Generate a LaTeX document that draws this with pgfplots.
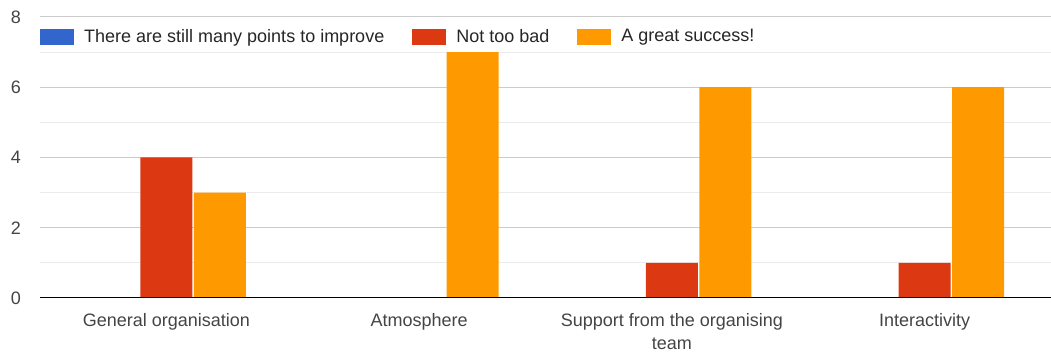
\documentclass[border=0pt]{standalone}
\usepackage{pgfplots}
\pgfplotsset{compat=1.18}
\usepackage{fontspec}
\setmainfont{Liberation Sans}
\definecolor{gblue}{HTML}{3366CC}
\definecolor{gred}{HTML}{DC3912}
\definecolor{gorange}{HTML}{FF9900}
\definecolor{labelgray}{HTML}{444444}
\definecolor{majgrid}{HTML}{CCCCCC}
\definecolor{mingrid}{HTML}{EBEBEB}
\definecolor{baseline}{HTML}{666666}
\begin{document}
\fontsize{18}{23}\selectfont
\begin{tikzpicture}
\begin{axis}[
  width=1011pt, height=281pt, scale only axis,
  xmin=-0.5, xmax=3.5, ymin=0, ymax=8,
  ybar=1.5pt, bar width=52pt,
  axis line style={draw=none},
  major tick length=0pt, minor tick length=0pt,
  xtick={0,1,2,3},
  xticklabels={General organisation, Atmosphere, {Support from the organising\\team}, Interactivity},
  xticklabel style={align=center, text=labelgray, yshift=-9pt, font=\fontsize{18}{23}\selectfont},
  ytick={0,2,4,6,8}, minor ytick={1,3,5,7},
  yticklabel style={text=labelgray, xshift=-13pt, font=\fontsize{18}{21}\selectfont},
  /pgf/number format/assume math mode=true,
  ymajorgrids, yminorgrids,
  major grid style={color=majgrid, line width=1pt},
  minor grid style={color=mingrid, line width=1pt},
  legend style={at={(0,0.929)}, anchor=west, draw=none, fill=none, inner sep=0pt,
    legend columns=-1, text=black!85, font=\fontsize{18}{21}\selectfont,
    /tikz/every odd column/.append style={column sep=8pt},
    /tikz/every even column/.append style={column sep=26pt}},
  legend image code/.code={\fill[#1] (0pt,-8pt) rectangle (34pt,8pt);},
]
\addplot[fill=gblue, draw=none] coordinates {(0,0) (1,0) (2,0) (3,0)};
\addplot[fill=gred, draw=none] coordinates {(0,4) (1,0) (2,1) (3,1)};
\addplot[fill=gorange, draw=none] coordinates {(0,3) (1,7) (2,6) (3,6)};
\legend{There are still many points to improve, Not too bad, A great success!}
\draw[baseline, line width=2pt] (axis cs:-0.5,0) -- (axis cs:3.5,0);
\end{axis}
\pgfresetboundingbox
\path ([xshift=-40pt,yshift=-58pt]current axis.south west) rectangle ([yshift=17pt]current axis.north east);
\end{tikzpicture}
\end{document}
